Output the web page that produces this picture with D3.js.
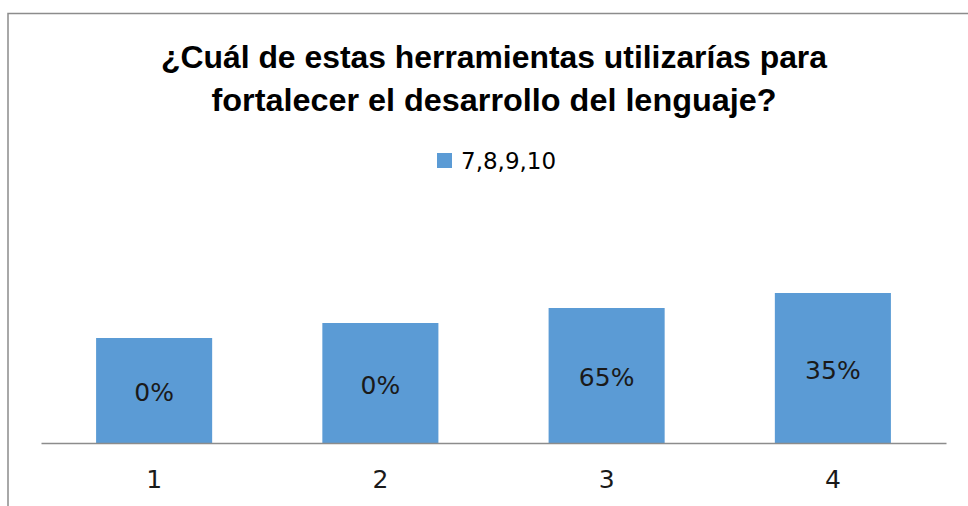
<!DOCTYPE html>
<html>
<head>
<meta charset="utf-8">
<script src="https://cdn.jsdelivr.net/npm/d3@7"></script>
<style>
  html, body { margin: 0; padding: 0; background: #fff; }
  svg { display: block; }
</style>
</head>
<body>
<div id="chart"></div>
<script>
// data
const categories = ['1', '2', '3', '4'];
const values = [7, 8, 9, 10];
const valueLabels = ['0%', '0%', '65%', '35%'];
const seriesName = '7,8,9,10';
const titleLines = ['¿Cuál de estas herramientas utilizarías para', 'fortalecer el desarrollo del lenguaje?'];

const width = 968, height = 506;
const margin = { top: 263, right: 22, bottom: 63, left: 41 };
const barColor = '#5B9BD5';

const svg = d3.select('#chart')
  .append('svg')
  .attr('width', width)
  .attr('height', height);

// chart frame (only top and left edges show)
svg.append('path')
  .attr('d', `M8,${height} V13.5 H${width}`)
  .attr('fill', 'none')
  .attr('stroke', '#8c8c8c')
  .attr('stroke-width', 1.5);

// title
const titleWidths = [666, 565];
svg.append('g')
  .selectAll('text')
  .data(titleLines)
  .join('text')
    .attr('x', 494)
    .attr('y', (d, i) => 68 + i * 43)
    .attr('text-anchor', 'middle')
    .attr('textLength', (d, i) => titleWidths[i])
    .attr('lengthAdjust', 'spacingAndGlyphs')
    .attr('font-family', '"Liberation Sans", Arial, sans-serif')
    .attr('font-weight', 'bold')
    .attr('font-size', 32)
    .attr('fill', '#000')
    .text(d => d);

// legend
const legend = svg.append('g').attr('transform', 'translate(437,153)');
legend.append('rect')
  .attr('width', 15)
  .attr('height', 15)
  .attr('fill', barColor);
legend.append('text')
  .attr('x', 24)
  .attr('y', 16)
  .attr('font-family', '"DejaVu Sans", sans-serif')
  .attr('font-size', 23)
  .attr('fill', '#000')
  .text(seriesName);

const w = width - margin.left - margin.right;
const h = height - margin.top - margin.bottom;

const g = svg.append('g')
  .attr('transform', `translate(${margin.left},${margin.top})`);

const x = d3.scaleBand()
  .domain(categories)
  .range([0, w])
  .paddingInner(0.487)
  .paddingOuter(0.2435);

const y = d3.scaleLinear()
  .domain([0, 12])
  .range([h, 0]);

g.selectAll('rect.bar')
  .data(values)
  .join('rect')
    .attr('class', 'bar')
    .attr('x', (d, i) => x(categories[i]))
    .attr('y', d => y(d))
    .attr('width', x.bandwidth())
    .attr('height', d => h - y(d))
    .attr('fill', barColor);

// value labels, centred in each bar
g.selectAll('text.val')
  .data(values)
  .join('text')
    .attr('class', 'val')
    .attr('x', (d, i) => x(categories[i]) + x.bandwidth() / 2)
    .attr('y', d => (y(d) + h) / 2 + 2)
    .attr('text-anchor', 'middle')
    .attr('dominant-baseline', 'central')
    .attr('font-family', '"DejaVu Sans", sans-serif')
    .attr('font-size', 25)
    .attr('fill', '#1a1a1a')
    .text((d, i) => valueLabels[i]);

// category axis
const xAxis = g.append('g')
  .attr('transform', `translate(0,${h})`)
  .call(d3.axisBottom(x).tickSize(0).tickPadding(27));

xAxis.select('.domain')
  .attr('stroke', '#8c8c8c')
  .attr('stroke-width', 1.5);

xAxis.selectAll('text')
  .attr('font-family', '"DejaVu Sans", sans-serif')
  .attr('font-size', 25)
  .attr('fill', '#1a1a1a');
</script>
</body>
</html>
